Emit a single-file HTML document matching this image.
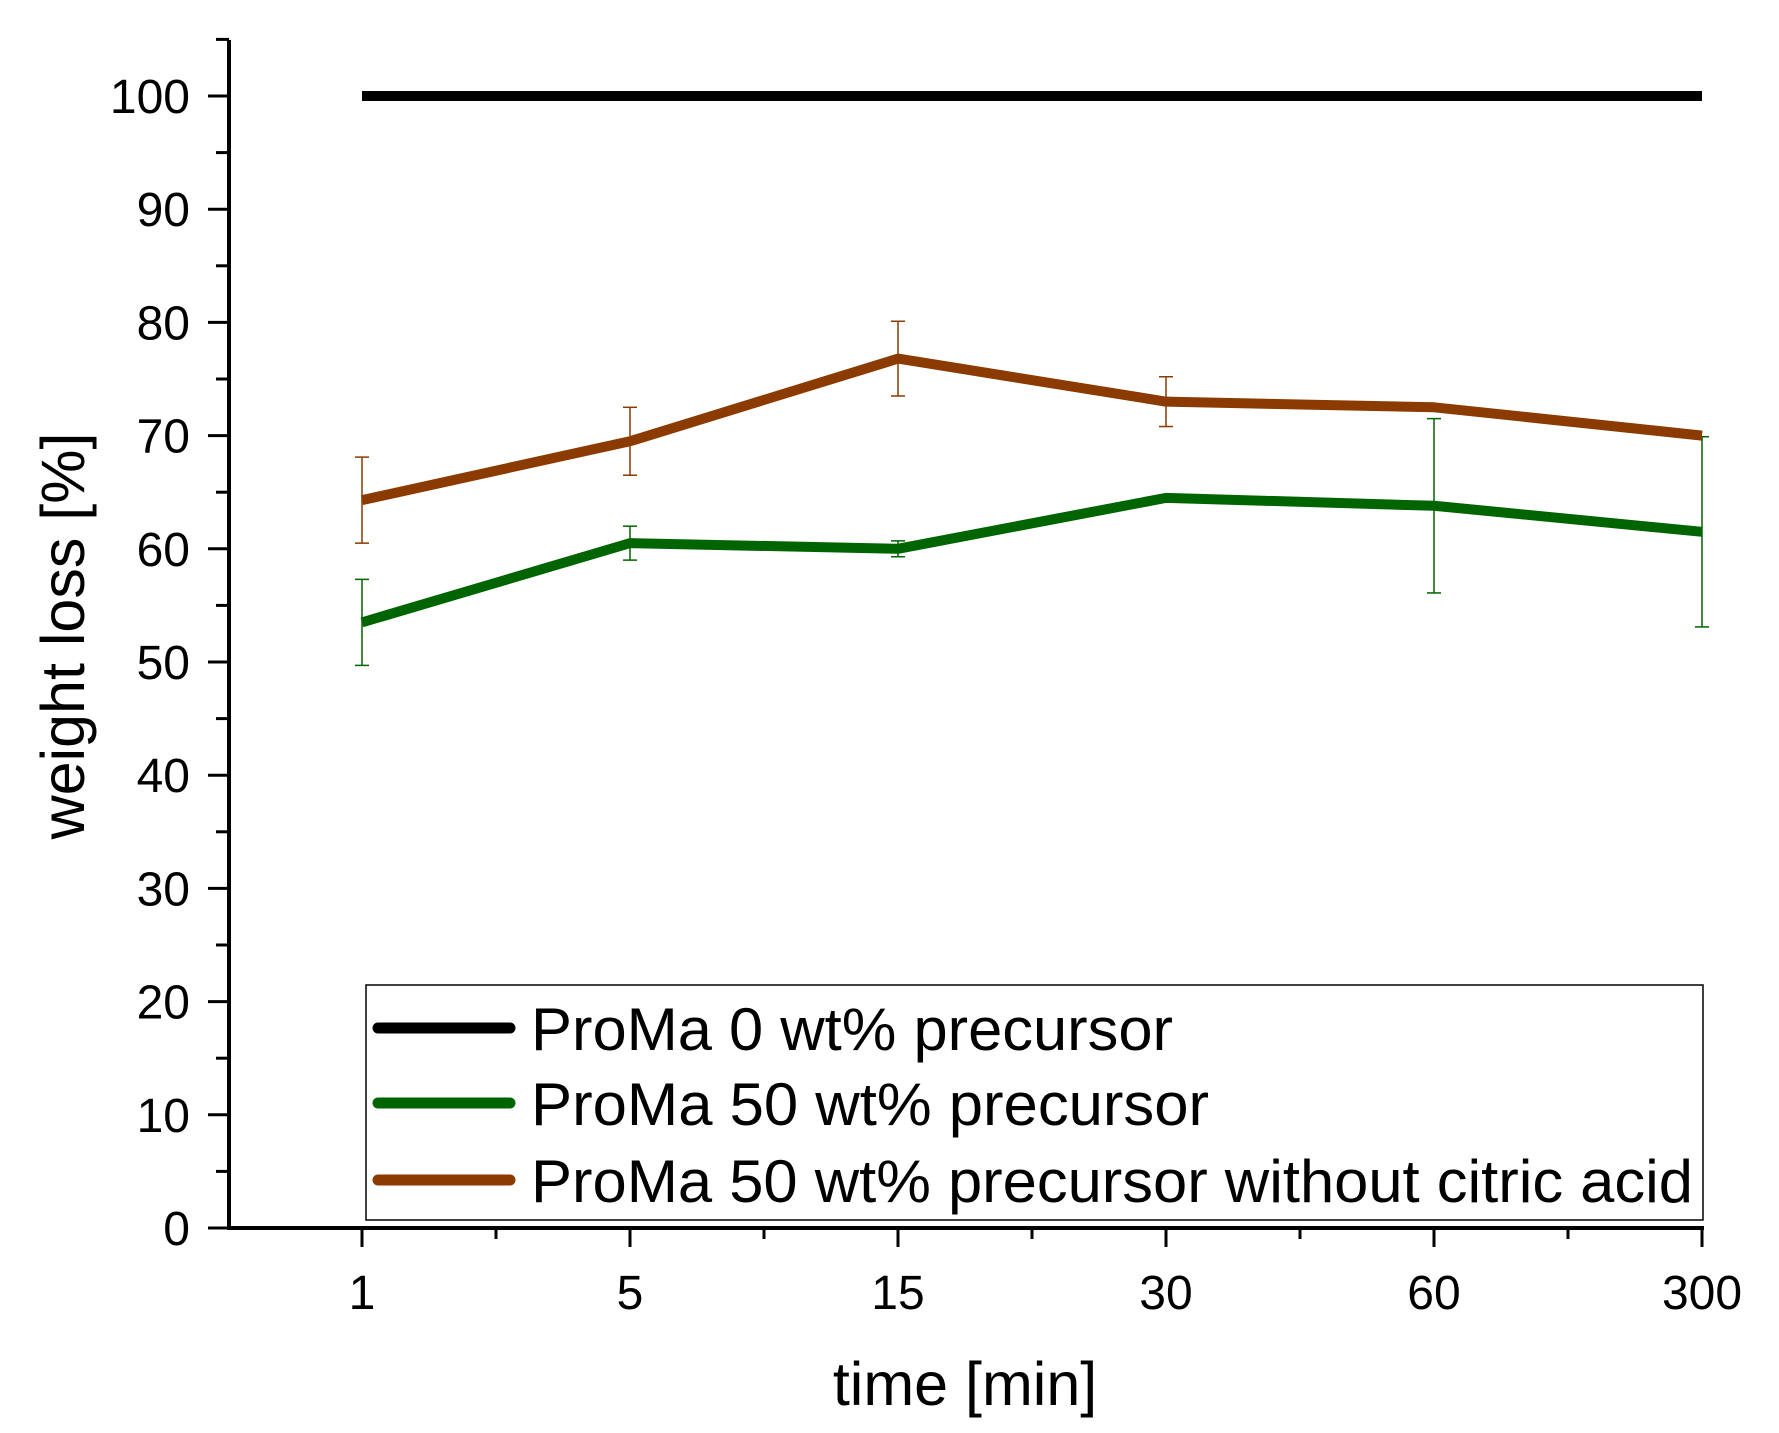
<!DOCTYPE html>
<html><head><meta charset="utf-8"><style>
html,body{margin:0;padding:0;background:#fff;}
svg{display:block;font-family:"Liberation Sans",sans-serif;}
</style></head><body>
<svg id="chart" width="1779" height="1433" viewBox="0 0 1779 1433" xmlns="http://www.w3.org/2000/svg">
<g id="axes"></g>
<g id="series"></g>
<text x="965" y="1405" font-size="61" text-anchor="middle">time [min]</text>
<text transform="translate(84,636) rotate(-90)" font-size="61" text-anchor="middle">weight loss [%]</text>
<g>
<rect x="366" y="985" width="1337" height="235" fill="none" stroke="#000" stroke-width="1.5"/>
<line x1="378" y1="1028" x2="510" y2="1028" stroke="#000" stroke-width="11" stroke-linecap="round"/>
<text x="531" y="1050" font-size="60" textLength="642" lengthAdjust="spacingAndGlyphs">ProMa 0 wt% precursor</text>
<line x1="378" y1="1103" x2="510" y2="1103" stroke="#006400" stroke-width="11" stroke-linecap="round"/>
<text x="531" y="1125" font-size="60" textLength="678" lengthAdjust="spacingAndGlyphs">ProMa 50 wt% precursor</text>
<line x1="378" y1="1180" x2="510" y2="1180" stroke="#8b3a00" stroke-width="11" stroke-linecap="round"/>
<text x="531" y="1202" font-size="60" textLength="1162" lengthAdjust="spacingAndGlyphs">ProMa 50 wt% precursor without citric acid</text>
</g>
</svg>
<script>
const categories = ["1","5","15","30","60","300"];
const seriesBlack = [100,100,100,100,100,100];
const seriesGreen = [53.5,60.5,60,64.5,63.8,61.5];
const errGreen = [3.8,1.5,0.7,0,7.7,8.4];
const seriesBrown = [64.3,69.5,76.8,73,72.5,70];
const errBrown = [3.8,3,3.3,2.2,0,0];
const yTicks = [0,10,20,30,40,50,60,70,80,90,100];

const NS="http://www.w3.org/2000/svg";
const X0=362, DX=268, Y0=1228, PY=11.32, AX=229;
const xs=i=>X0+i*DX;
const ys=v=>Y0-v*PY;
function mk(tag,attrs,parent){const e=document.createElementNS(NS,tag);for(const k in attrs)e.setAttribute(k,attrs[k]);parent.appendChild(e);return e;}
const axes=document.getElementById('axes');
const series=document.getElementById('series');

let yl=mk('line',{x1:AX,y1:40,x2:AX,y2:Y0+2,stroke:'#000','stroke-width':4},axes);


let xl=mk('line',{x1:AX-2,y1:Y0,x2:xs(5)+2,y2:Y0,stroke:'#000','stroke-width':4},axes);



for(let v=0;v<=105;v+=5){
  const major=v%10===0;
  const t=mk('line',{x1:major?208:216,y1:ys(v),x2:AX,y2:ys(v),stroke:'#000','stroke-width':3},axes);
  
  
}
yTicks.forEach(v=>{
  const t=mk('text',{x:190,y:ys(v)+17,'font-size':48,'text-anchor':'end'},axes);
  t.textContent=v;
  
  
});
for(let k=-1;k<=10;k++){
  const x=X0+k*DX/2; const major=k%2===0;
  if(x<AX) continue;
  const t=mk('line',{x1:x,y1:Y0,x2:x,y2:major?Y0+19:Y0+11,stroke:'#000','stroke-width':3},axes);
  
  
}
categories.forEach((c,i)=>{
  const t=mk('text',{x:xs(i),y:1309,'font-size':48,'text-anchor':'middle'},axes);
  t.textContent=c;
  
  
});

function drawSeries(vals,errs,color,name){
  if(errs){
    vals.forEach((v,i)=>{
      if(!errs[i]) return;
      const g=mk('g',{stroke:color,'stroke-width':1.5},series);
      
      
      const x=xs(i),a=ys(v+errs[i]),b=ys(v-errs[i]);
      mk('line',{x1:x,y1:a,x2:x,y2:b},g);
      mk('line',{x1:x-7,y1:a,x2:x+7,y2:a},g);
      mk('line',{x1:x-7,y1:b,x2:x+7,y2:b},g);
    });
  }
  const p=mk('polyline',{points:vals.map((v,i)=>xs(i)+','+ys(v)).join(' '),fill:'none',stroke:color,'stroke-width':10,'stroke-linejoin':'round'},series);
  
  
}
drawSeries(seriesBlack,null,'#000','proma-0wt');
drawSeries(seriesGreen,errGreen,'#006400','proma-50wt');
drawSeries(seriesBrown,errBrown,'#8b3a00','proma-50wt-no-citric');
</script>
</body></html>
